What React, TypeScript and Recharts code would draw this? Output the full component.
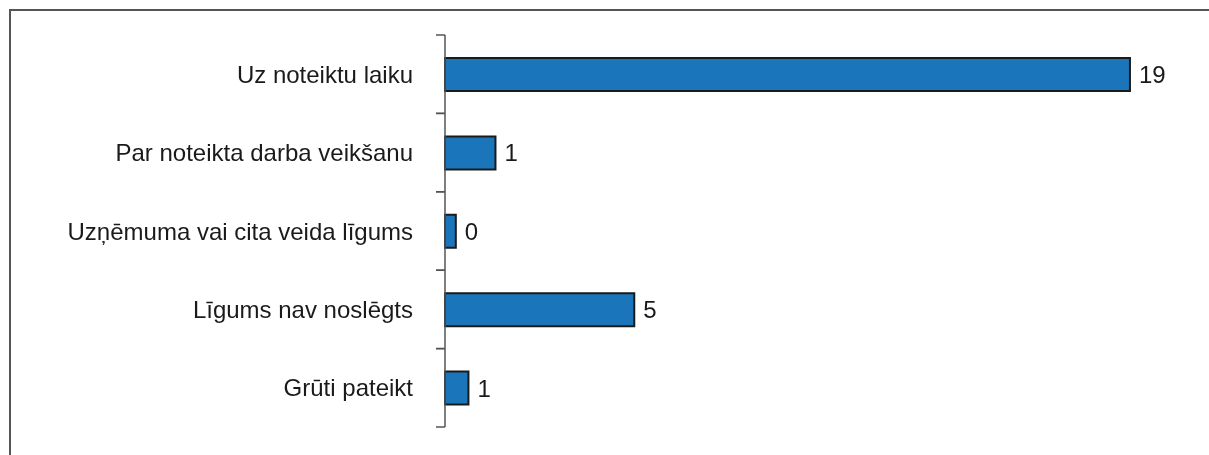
import React from 'react';
import { BarChart, Bar, XAxis, YAxis, LabelList } from 'recharts';

const categories = [
  'Uz noteiktu laiku',
  'Par noteikta darba veikšanu',
  'Uzņēmuma vai cita veida līgums',
  'Līgums nav noslēgts',
  'Grūti pateikt',
];

// bar lengths; labels show them rounded
const values = [19, 1.4, 0.3, 5.25, 0.65];

const chartData = categories.map((name, i) => ({ name, value: values[i] }));

const FONT = '"Liberation Sans", Arial, sans-serif';
const TICK_SIZE = 9;
const TICK_MARGIN = 23;
const BAND = 78.4;

const CategoryTick = (props: any) => {
  const { x, y, payload } = props;
  const axisX = x + TICK_MARGIN + TICK_SIZE;
  return (
    <g>
      <line x1={axisX - TICK_SIZE} x2={axisX} y1={y - BAND / 2} y2={y - BAND / 2} stroke="#555" strokeWidth={1.5} />
      <line x1={axisX - TICK_SIZE} x2={axisX} y1={y + BAND / 2} y2={y + BAND / 2} stroke="#555" strokeWidth={1.5} />
      <text x={x} y={y} dy="0.355em" textAnchor="end" fill="#1a1a1a" fontSize={24} fontFamily={FONT}>
        {payload.value}
      </text>
    </g>
  );
};

const App: React.FC = () => {
  return (
    <div style={{ position: 'relative', width: 1193, height: 439 }}>
      {/* frame: only top and left edges fall inside the picture */}
      <div
        style={{
          position: 'fixed',
          left: 9,
          top: 9,
          width: 1300,
          height: 600,
          borderTop: '2px solid #555',
          borderLeft: '2px solid #555',
        }}
      />
      <div style={{ position: 'absolute', left: 0, top: 0 }}>
        <BarChart
          width={1193}
          height={439}
          layout="vertical"
          data={chartData}
          margin={{ top: 27, right: 35, bottom: 20, left: 0 }}
        >
          <XAxis type="number" domain={[0, 20]} hide />
          <YAxis
            type="category"
            dataKey="name"
            width={437}
            tickSize={TICK_SIZE}
            tickMargin={TICK_MARGIN}
            tickLine={false}
            axisLine={{ stroke: '#555', strokeWidth: 1.5 }}
            tick={<CategoryTick />}
            interval={0}
          />
          <Bar dataKey="value" fill="#1b75bb" stroke="#1a1a1a" strokeWidth={2} barSize={33} isAnimationActive={false}>
            <LabelList
              dataKey="value"
              position="right"
              offset={9}
              formatter={(v: any) => Math.round(Number(v))}
              fill="#1a1a1a"
              fontSize={24}
              fontFamily={FONT}
            />
          </Bar>
        </BarChart>
      </div>
    </div>
  );
};

export default App;
